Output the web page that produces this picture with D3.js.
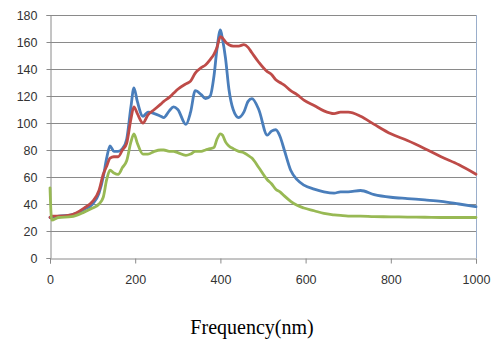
<!DOCTYPE html>
<html>
<head>
<meta charset="utf-8">
<script src="https://cdn.jsdelivr.net/npm/d3@7"></script>
<style>
  body { margin: 0; background: #fff; }
  svg { display: block; }
  .tick text { font-family: "Liberation Sans", Arial, sans-serif; font-size: 12.5px; fill: #333; }
</style>
</head>
<body>
<svg id="chart"></svg>
<script>
// x positions (nm) shared by all three series
const freq = [0, 4, 20, 50, 80, 100, 115, 125, 133, 141, 150, 160, 170, 180, 190, 197, 205, 218, 230, 245,
  260, 267, 280, 290, 300, 319, 330, 341, 355, 365, 376, 385, 392, 400, 405, 412, 420, 430, 443, 455,
  465, 474, 490, 510, 520, 530, 540, 550, 565, 580, 596, 620, 643, 667, 682, 700, 729, 761, 800, 839,
  880, 918, 960, 1000];

const blueVals = [30, 30, 31, 32, 36, 40, 48, 60, 74, 83, 79, 79, 81, 88, 112, 126, 116, 105, 108, 107,
  105, 104, 109, 112, 110, 99, 108, 124, 121, 118, 120, 135, 155, 169, 162, 148, 125, 110, 104, 108,
  116, 118, 110, 91, 94, 95, 90, 80, 65, 58, 54, 51, 49, 48, 49, 49, 50, 47, 45, 44,
  43, 42, 40, 38];

const redVals = [30, 31, 31, 32, 37, 42, 50, 62, 68, 74, 75, 75, 80, 85, 103, 112, 107, 100, 106, 110,
  114, 116, 119, 122, 125, 129, 131, 137, 141, 143, 147, 151, 156, 164, 163, 160, 158, 157, 157, 158,
  156, 152, 145, 138, 136, 132, 130, 128, 124, 121, 117, 113, 109, 107, 108, 108, 105, 99, 92, 87,
  81, 75, 69, 62];

const greenVals = [52, 28, 30, 30.6, 34, 37, 40, 45, 58, 65, 63, 62, 67, 72, 86, 92, 85, 77, 77, 79,
  80, 80, 79, 79, 78, 76, 77, 79, 79, 80, 81, 82, 88, 92, 91, 86, 83, 81, 79, 78,
  76, 74, 67, 58, 55, 51, 49, 46, 42, 39, 37, 35, 33, 32, 31.5, 31, 31, 30.6, 30.5, 30.3,
  30.2, 30, 30, 30];

const xTicks = [0, 200, 400, 600, 800, 1000];
const yTicks = [0, 20, 40, 60, 80, 100, 120, 140, 160, 180];
const seriesList = [
  { name: 'blue', values: blueVals, color: '#4a7ebb' },
  { name: 'red', values: redVals, color: '#be4b48' },
  { name: 'green', values: greenVals, color: '#98b954' }
];

const width = 495, height = 339;
const margin = { top: 15, right: 19, bottom: 81, left: 50 };
const innerWidth = width - margin.left - margin.right;
const innerHeight = height - margin.top - margin.bottom;

const svg = d3.select('#chart').attr('width', width).attr('height', height);

const xScale = d3.scaleLinear().domain([0, 1000]).range([margin.left, margin.left + innerWidth]);
const yScale = d3.scaleLinear().domain([0, 180]).range([margin.top + innerHeight, margin.top]);

// 网格线
svg.append('g')
   .selectAll('line')
   .data(yTicks.filter(d => d > 0))
   .enter().append('line')
   .attr('x1', margin.left)
   .attr('x2', margin.left + innerWidth)
   .attr('y1', d => Math.round(yScale(d)) + 0.5)
   .attr('y2', d => Math.round(yScale(d)) + 0.5)
   .attr('stroke', '#8a8a8a')
   .attr('stroke-width', 1);

// right border of plot area
svg.append('line')
   .attr('x1', margin.left + innerWidth + 0.5)
   .attr('x2', margin.left + innerWidth + 0.5)
   .attr('y1', margin.top)
   .attr('y2', margin.top + innerHeight)
   .attr('stroke', '#9aaecb');

const yAxis = d3.axisLeft(yScale).tickValues(yTicks).tickSize(4).tickPadding(9);
const xAxis = d3.axisBottom(xScale).tickValues(xTicks).tickFormat(d3.format('d')).tickSize(5).tickPadding(12);

const gy = svg.append('g')
   .attr('transform', `translate(${margin.left + 0.5}, 0)`)
   .call(yAxis);
const gx = svg.append('g')
   .attr('transform', `translate(0, ${margin.top + innerHeight + 0.5})`)
   .call(xAxis);

[gy, gx].forEach(g => {
    g.select('.domain').attr('stroke', '#8a8a8a');
    g.selectAll('.tick line').attr('stroke', '#8a8a8a');
    g.selectAll('.tick text').attr('font-family', null).attr('font-size', null);
});

// 三条曲线
const line = d3.line()
    .x((d, i) => xScale(freq[i]))
    .y(d => yScale(d))
    .curve(d3.curveMonotoneX);

svg.append('g')
   .selectAll('path')
   .data(seriesList)
   .enter().append('path')
   .attr('d', d => line(d.values))
   .attr('fill', 'none')
   .attr('stroke', d => d.color)
   .attr('stroke-width', 2.8)
   .attr('stroke-linejoin', 'round')
   .attr('stroke-linecap', 'round');

svg.append('text')
   .attr('x', 252)
   .attr('y', 334)
   .attr('text-anchor', 'middle')
   .attr('font-family', '"Liberation Serif", "Times New Roman", serif')
   .attr('font-size', 20)
   .attr('fill', '#000')
   .text('Frequency(nm)');
</script>
</body>
</html>
